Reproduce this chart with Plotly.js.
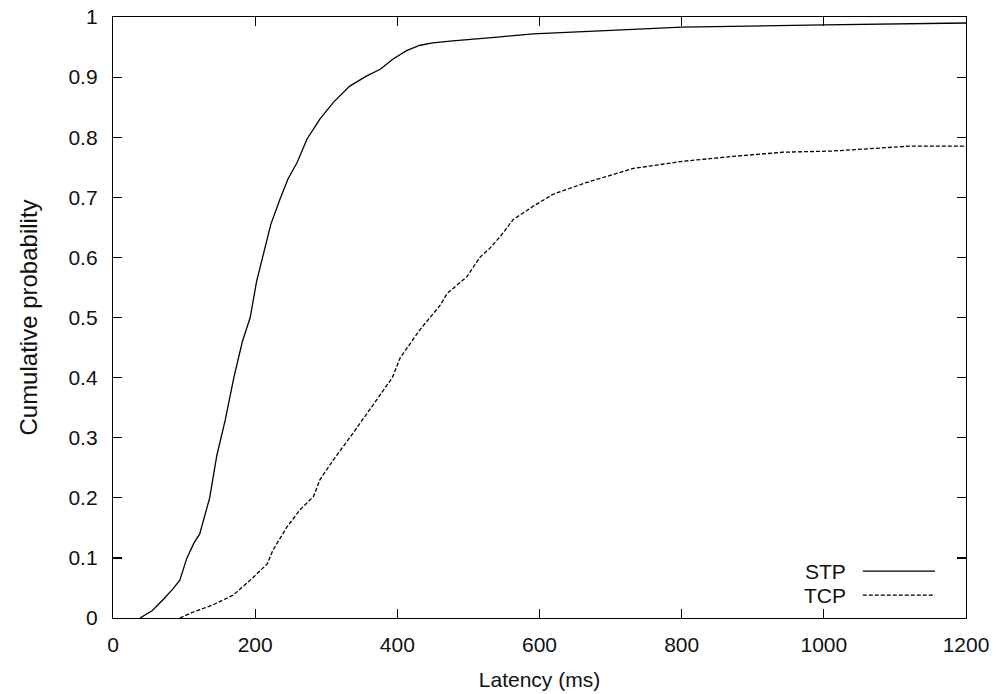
<!DOCTYPE html>
<html><head><meta charset="utf-8">
<script src="https://cdn.plot.ly/plotly-3.0.1.min.js"></script>
<style>body{margin:0;background:#fff}#c{width:996px;height:694px}</style>
</head><body><div id="c"></div>
<script>
const stpLatency = [38, 55, 70, 84, 94, 104, 114, 122, 136, 146, 158, 170, 182, 193, 202, 210, 222, 235, 246, 259, 273, 291, 310, 333, 357, 376, 394, 413, 432, 450, 474, 545, 591, 685, 800, 1000, 1200];
const stpProb    = [0, 0.012, 0.03, 0.048, 0.063, 0.10, 0.125, 0.14, 0.20, 0.27, 0.33, 0.40, 0.46, 0.50, 0.56, 0.60, 0.655, 0.697, 0.73, 0.758, 0.797, 0.83, 0.858, 0.885, 0.902, 0.913, 0.93, 0.944, 0.953, 0.957, 0.96, 0.967, 0.972, 0.977, 0.983, 0.987, 0.99];
const tcpLatency = [94, 113, 141, 169, 193, 217, 225, 245, 263, 282, 291, 310, 338, 371, 393, 404, 432, 460, 470, 498, 516, 530, 545, 563, 591, 619, 667, 732, 802, 872, 943, 1013, 1083, 1119, 1200];
const tcpProb    = [0, 0.01, 0.022, 0.038, 0.063, 0.09, 0.113, 0.152, 0.18, 0.202, 0.23, 0.263, 0.308, 0.363, 0.40, 0.433, 0.48, 0.52, 0.54, 0.568, 0.60, 0.615, 0.635, 0.663, 0.685, 0.705, 0.725, 0.748, 0.76, 0.768, 0.775, 0.777, 0.782, 0.785, 0.785];
const seriesNames = ["STP", "TCP"];
const xTicks = [0, 200, 400, 600, 800, 1000, 1200];
const yTicks = [0, 0.1, 0.2, 0.3, 0.4, 0.5, 0.6, 0.7, 0.8, 0.9, 1];
const yTickText = ["0", "0.1", "0.2", "0.3", "0.4", "0.5", "0.6", "0.7", "0.8", "0.9", "1"];

const font = {family: "Liberation Sans, Arial, sans-serif", size: 21, color: "#111"};
const yTitleFont = {family: "Liberation Sans, Arial, sans-serif", size: 24, color: "#111"};
const traces = [
  {x: stpLatency, y: stpProb, mode: "lines", name: seriesNames[0], line: {color: "#000", width: 1.3}},
  {x: tcpLatency, y: tcpProb, mode: "lines", name: seriesNames[1], line: {color: "#000", width: 1.3, dash: "4px,2px"}}
];
const axisCommon = {showgrid: false, zeroline: false, showline: true, linecolor: "#000", linewidth: 1.2,
  mirror: "allticks", ticks: "inside", ticklen: 9, tickcolor: "#000", tickwidth: 1.2, tickfont: font};
const layout = {
  width: 996, height: 694,
  margin: {l: 113, r: 30, t: 17, b: 76},
  paper_bgcolor: "#fff", plot_bgcolor: "#fff",
  showlegend: false,
  xaxis: Object.assign({}, axisCommon, {range: [0, 1200], tickvals: xTicks, ticktext: xTicks.map(String),
    ticklabelstandoff: 8, title: {text: "Latency (ms)", font: font, standoff: 16}}),
  yaxis: Object.assign({}, axisCommon, {range: [0, 1], tickvals: yTicks, ticktext: yTickText,
    ticklabelstandoff: 10, title: {text: "Cumulative probability", font: yTitleFont, standoff: 24}}),
  annotations: seriesNames.map((n, i) => ({xref: "paper", yref: "paper", x: 0.8617, y: 0.078 - i * 0.04,
    text: n, showarrow: false, xanchor: "right", yanchor: "middle", font: font})),
  shapes: seriesNames.map((n, i) => ({type: "line", xref: "paper", yref: "paper", x0: 0.879, x1: 0.9637,
    y0: 0.078 - i * 0.04, y1: 0.078 - i * 0.04, line: {color: "#000", width: 1.2, dash: i ? "4px,2px" : "solid"}}))
};
Plotly.newPlot("c", traces, layout, {displayModeBar: false, staticPlot: true});
</script></body></html>
